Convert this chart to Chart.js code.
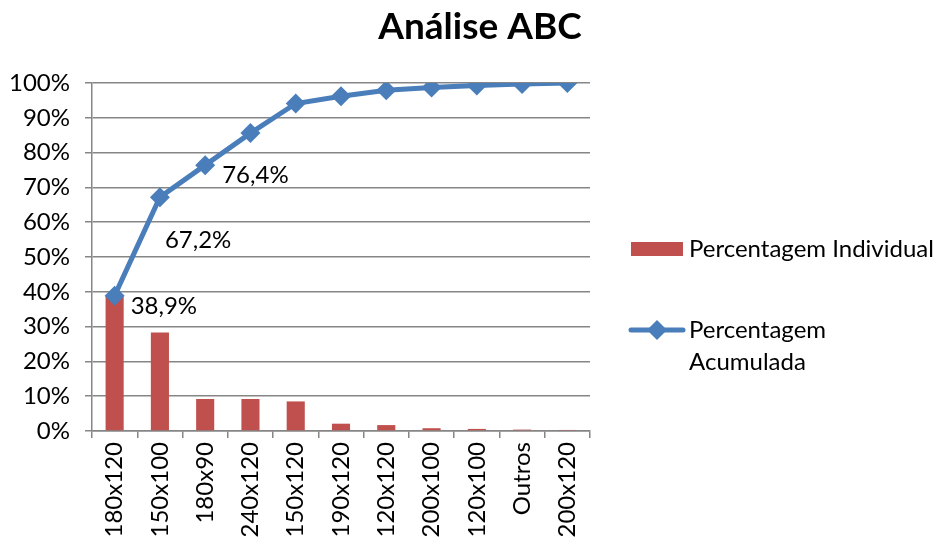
<!DOCTYPE html>
<html lang="pt">
<head>
<meta charset="utf-8">
<title>Análise ABC</title>
<script src="https://cdn.jsdelivr.net/npm/chart.js@4.4.1/dist/chart.umd.min.js"></script>
<style>
  html, body { margin: 0; padding: 0; background: #ffffff; }
  #wrap { width: 948px; height: 543px; }
</style>
</head>
<body>
<div id="wrap"><canvas id="abc" width="948" height="543"></canvas></div>
<script>
// Categorias (medidas) e percentuais da análise ABC
const categorias = ['180x120', '150x100', '180x90', '240x120', '150x120', '190x120', '120x120', '200x100', '120x100', 'Outros', '200x120'];
const percentagemIndividual = [38.9, 28.3, 9.2, 9.2, 8.5, 2.1, 1.7, 0.8, 0.6, 0.4, 0.3];
const percentagemAcumulada = [38.9, 67.2, 76.4, 85.6, 94.1, 96.2, 97.9, 98.7, 99.3, 99.7, 100.0];
const pontosRotulados = [0, 1, 2];
const titulo = 'Análise ABC';
const nomeIndividual = 'Percentagem Individual';
const nomeAcumulada = ['Percentagem', 'Acumulada'];

const FONTE = 'Lato, "Open Sans", sans-serif';
const VERMELHO = '#C0504D';
const AZUL = '#4A7EBB';
const CINZA = '#868686';

// deslocamento de cada rótulo em relação ao seu ponto
const deslocRotulo = [[16, 11], [5, 43], [17, 10]];

const formatar = v => v.toFixed(1).replace('.', ',') + '%';

const rotulosPlugin = {
  id: 'rotulos',
  afterDatasetsDraw(chart) {
    const meta = chart.getDatasetMeta(0);
    const ctx = chart.ctx;
    ctx.save();
    ctx.font = '24px ' + FONTE;
    ctx.fillStyle = '#000000';
    ctx.textAlign = 'left';
    ctx.textBaseline = 'middle';
    pontosRotulados.forEach((i, k) => {
      const p = meta.data[i];
      const [dx, dy] = deslocRotulo[k];
      ctx.fillText(formatar(percentagemAcumulada[i]), p.x + dx, p.y + dy);
    });
    ctx.restore();
  }
};

const tituloLegendaPlugin = {
  id: 'tituloLegenda',
  afterDraw(chart) {
    const ctx = chart.ctx;
    ctx.save();
    // título
    ctx.fillStyle = '#000000';
    ctx.font = 'bold 37px ' + FONTE;
    ctx.textAlign = 'center';
    ctx.textBaseline = 'middle';
    ctx.fillText(titulo, 480, 27);

    // legenda
    ctx.font = '24px ' + FONTE;
    ctx.textAlign = 'left';
    ctx.fillStyle = VERMELHO;
    ctx.fillRect(631, 242, 52, 14);
    ctx.fillStyle = '#000000';
    ctx.fillText(nomeIndividual, 689, 249);

    ctx.strokeStyle = AZUL;
    ctx.lineWidth = 5;
    ctx.lineCap = 'round';
    ctx.beginPath();
    ctx.moveTo(631, 330);
    ctx.lineTo(683, 330);
    ctx.stroke();
    ctx.fillStyle = AZUL;
    ctx.beginPath();
    ctx.moveTo(657, 320);
    ctx.lineTo(667, 330);
    ctx.lineTo(657, 340);
    ctx.lineTo(647, 330);
    ctx.closePath();
    ctx.fill();
    ctx.fillStyle = '#000000';
    ctx.fillText(nomeAcumulada[0], 689, 330);
    ctx.fillText(nomeAcumulada[1], 689, 362);
    ctx.restore();
  }
};

new Chart(document.getElementById('abc'), {
  type: 'bar',
  data: {
    labels: categorias,
    datasets: [
      {
        type: 'line',
        label: nomeAcumulada.join(' '),
        data: percentagemAcumulada,
        borderColor: AZUL,
        backgroundColor: AZUL,
        borderWidth: 5,
        pointStyle: 'rectRot',
        pointRadius: 10,
        pointBorderWidth: 0,
        pointBackgroundColor: AZUL,
        tension: 0,
        order: 0
      },
      {
        type: 'bar',
        label: nomeIndividual,
        data: percentagemIndividual,
        backgroundColor: VERMELHO,
        categoryPercentage: 1,
        barPercentage: 0.4,
        order: 1
      }
    ]
  },
  options: {
    responsive: false,
    animation: false,
    devicePixelRatio: 1,
    layout: { padding: { top: 83, right: 358, bottom: 0, left: 0 } },
    plugins: {
      legend: { display: false },
      title: { display: false },
      tooltip: { enabled: false }
    },
    scales: {
      x: {
        offset: true,
        grid: {
          offset: true,
          drawOnChartArea: false,
          drawTicks: true,
          tickLength: 7,
          color: CINZA,
          lineWidth: 1.5
        },
        border: { color: CINZA, width: 1.5 },
        ticks: {
          color: '#000000',
          font: { family: FONTE, size: 24 },
          minRotation: 90,
          maxRotation: 90,
          padding: 4,
          autoSkip: false
        },
        afterFit(scale) { scale.height = 112; }
      },
      y: {
        min: 0,
        max: 100,
        ticks: {
          stepSize: 10,
          color: '#000000',
          font: { family: FONTE, size: 24 },
          padding: 15,
          callback: v => v + '%'
        },
        grid: {
          color: CINZA,
          lineWidth: 1.5,
          tickLength: 7
        },
        border: { color: CINZA, width: 1.5 },
        afterFit(scale) { scale.width = 92; }
      }
    }
  },
  plugins: [rotulosPlugin, tituloLegendaPlugin]
});
</script>
</body>
</html>
